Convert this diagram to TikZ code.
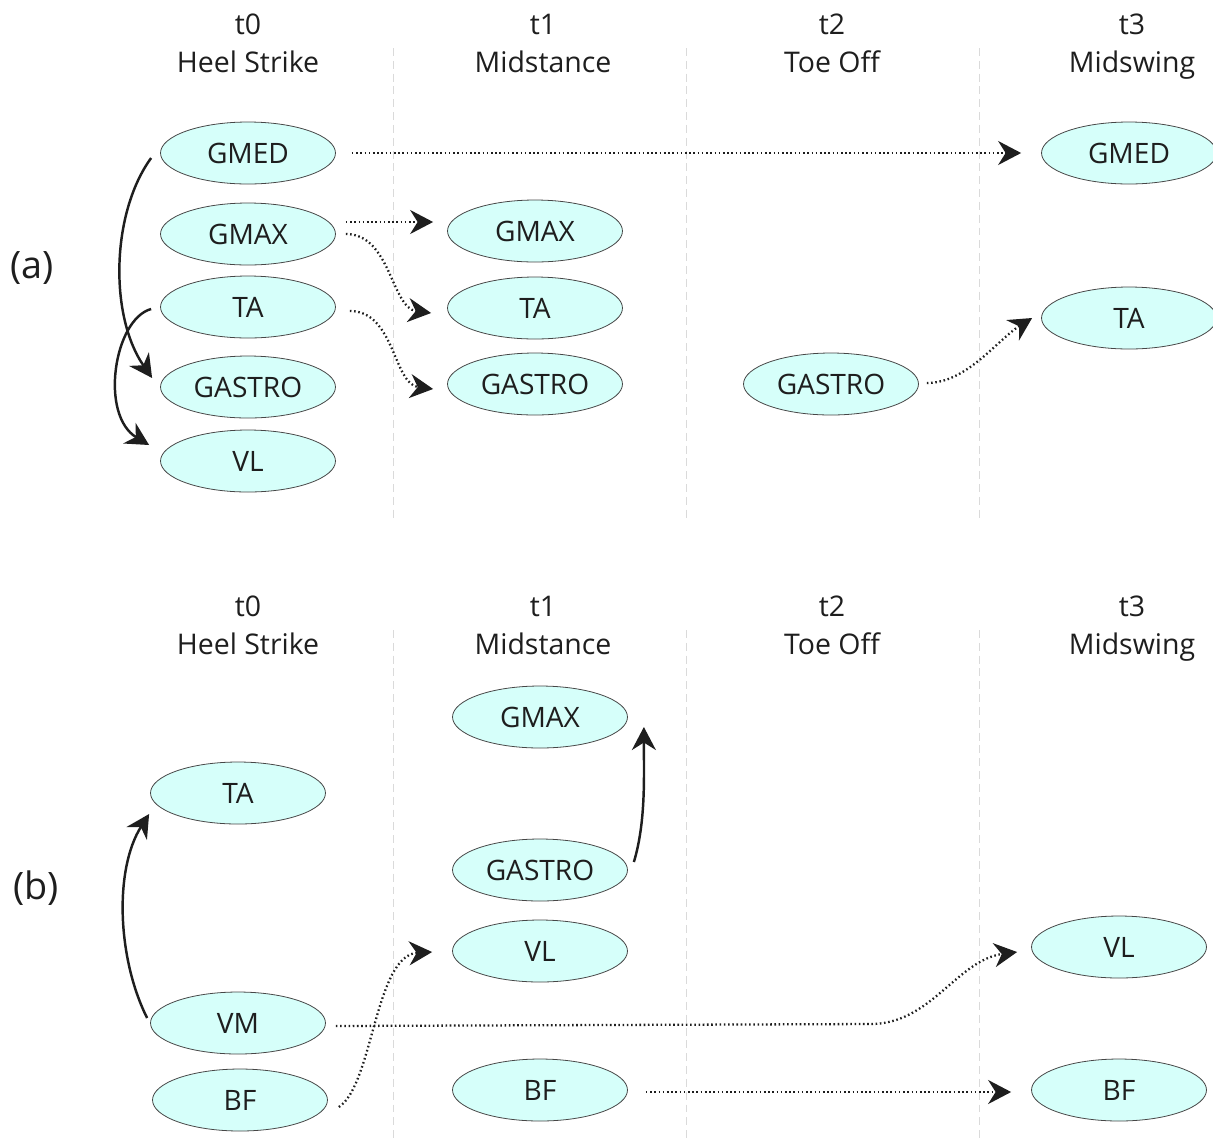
\documentclass[tikz,border=0pt]{standalone}
\usepackage{fontspec}
\setmainfont{Open Sans}
\usetikzlibrary{shapes.geometric,arrows.meta}
\definecolor{musclefill}{RGB}{214,255,250}
\definecolor{edgegray}{RGB}{70,70,70}
\definecolor{inkblack}{RGB}{30,30,30}
\definecolor{sepgray}{RGB}{218,218,218}
\begin{document}
\begin{tikzpicture}[x=0.02cm, y=-0.02cm,
    muscle/.style={ellipse, draw=edgegray, line width=0.45pt, fill=musclefill,
      minimum width=3.5cm, minimum height=1.24cm, inner sep=0pt,
      font=\fontsize{16}{19}\selectfont, text=inkblack},
    phase/.style={align=center, font=\fontsize{16.2}{21.5}\selectfont, text=inkblack},
    panel/.style={font=\fontsize{21.5}{26}\selectfont, text=inkblack},
    sepline/.style={draw=sepgray, line width=0.5pt, dash pattern=on 4.5pt off 2.8pt},
    solidarr/.style={draw=inkblack, line width=1.4pt,
      -{Stealth[length=0.46cm, width=0.48cm, inset=0.15cm]}},
    dotarr/.style={draw=inkblack, line width=1.3pt, dash pattern=on 0.9pt off 1.5pt,
      -{Stealth[length=0.46cm, width=0.48cm, inset=0.15cm]}}]
    \useasboundingbox (0,0) rectangle (1213,1140);
    % Vach ngan cac pha
    \foreach \sx in {393,686,979} {
        \draw[sepline] (\sx,48) -- (\sx,522);
        \draw[sepline] (\sx,630) -- (\sx,1138);
    }
    % Tieu de cac pha
    \node[phase] (aHead0) at (248,46) {\strut t0\\\strut Heel Strike};
    \node[phase] (aHead1) at (543,46) {\strut t1\\\strut Midstance};
    \node[phase] (aHead2) at (832,46) {\strut t2\\\strut Toe Off};
    \node[phase] (aHead3) at (1132,46) {\strut t3\\\strut Midswing};
    \node[phase] (bHead0) at (248,628) {\strut t0\\\strut Heel Strike};
    \node[phase] (bHead1) at (543,628) {\strut t1\\\strut Midstance};
    \node[phase] (bHead2) at (832,628) {\strut t2\\\strut Toe Off};
    \node[phase] (bHead3) at (1132,628) {\strut t3\\\strut Midswing};
    \node[panel] (aLabel) at (32,268) {(a)};
    \node[panel] (bLabel) at (36,888) {(b)};
    % Hinh (a)
    \node[muscle] (aGmed0) at (248,153) {GMED};
    \node[muscle] (aGmax0) at (248,234) {GMAX};
    \node[muscle] (aTa0) at (248,307) {TA};
    \node[muscle] (aGastro0) at (248,387) {GASTRO};
    \node[muscle] (aVl0) at (248,461) {VL};
    \node[muscle] (aGmax1) at (535,231) {GMAX};
    \node[muscle] (aTa1) at (535,308) {TA};
    \node[muscle] (aGastro1) at (535,384) {GASTRO};
    \node[muscle] (aGastro2) at (831,384) {GASTRO};
    \node[muscle] (aGmed3) at (1129,153) {GMED};
    \node[muscle] (aTa3) at (1129,318) {TA};
    \draw[solidarr] ([shift={(-9,5)}]aGmed0.west) .. controls +(-40,55) and +(-43,-62) .. ([shift={(-8,-9)}]aGastro0.west);
    \draw[solidarr] ([shift={(-9,2)}]aTa0.west) .. controls +(-37,10) and +(-50,-30) .. ([shift={(-11,-16)}]aVl0.west);
    \draw[dotarr] ([shift={(16,0)}]aGmed0.east) -- ([shift={(-20,0)}]aGmed3.west);
    \draw[dotarr] ([shift={(10,-12)}]aGmax0.east) -- ([shift={(-14,-9)}]aGmax1.west);
    \draw[dotarr] ([shift={(10,0)}]aGmax0.east) .. controls +(45,0) and +(-40,-5) .. ([shift={(-16,5)}]aTa1.west);
    \draw[dotarr] ([shift={(14,4)}]aTa0.east) .. controls +(45,0) and +(-40,-5) .. ([shift={(-14,5)}]aGastro1.west);
    \draw[dotarr] ([shift={(8,-1)}]aGastro2.east) .. controls +(40,0) and +(-35,22) .. ([shift={(-9,0)}]aTa3.west);
    % Hinh (b)
    \node[muscle] (bTa0) at (238,793) {TA};
    \node[muscle] (bVm0) at (238,1023) {VM};
    \node[muscle] (bBf0) at (240,1100) {BF};
    \node[muscle] (bGmax1) at (540,717) {GMAX};
    \node[muscle] (bGastro1) at (540,870) {GASTRO};
    \node[muscle] (bVl1) at (540,951) {VL};
    \node[muscle] (bBf1) at (540,1090) {BF};
    \node[muscle] (bVl3) at (1119,947) {VL};
    \node[muscle] (bBf3) at (1119,1090) {BF};
    \draw[solidarr] ([shift={(-3,-5)}]bVm0.west) .. controls +(-30,-60) and +(-35,55) .. ([shift={(-1,21)}]bTa0.west);
    \draw[solidarr] ([shift={(6,-8)}]bGastro1.east) .. controls +(12,-40) and +(0,50) .. ([shift={(16,10)}]bGmax1.east);
    \draw[dotarr] ([shift={(11,7)}]bBf0.east) .. controls +(34,-22) and +(-57,3) .. ([shift={(-20,1)}]bVl1.west);
    \draw[dotarr] ([shift={(10,3)}]bVm0.east) -- ++(535,-2) .. controls +(60,0) and +(-60,8) .. ([shift={(-14,5)}]bVl3.west);
    \draw[dotarr] ([shift={(18,2)}]bBf1.east) -- ([shift={(-20,2)}]bBf3.west);
\end{tikzpicture}
\end{document}
